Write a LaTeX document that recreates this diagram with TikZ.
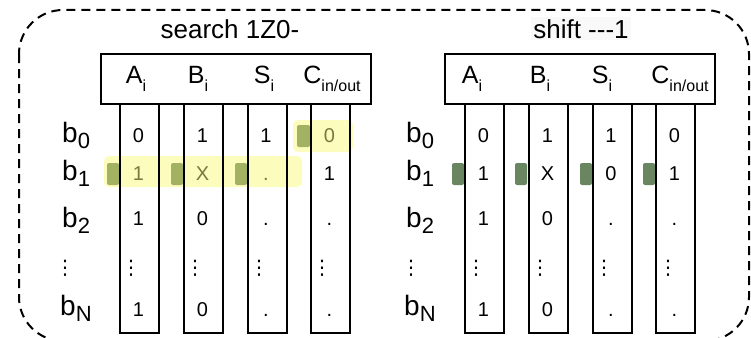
\documentclass[tikz,border=0pt]{standalone}
\usepackage{fontspec}
\setmainfont{Liberation Sans}
\newfontfamily\djv{DejaVu Sans}
\definecolor{hly}{RGB}{252,252,188}
\definecolor{grnL}{RGB}{163,178,98}
\definecolor{grnR}{RGB}{106,134,96}
\definecolor{hltx}{RGB}{120,120,66}
\newcommand\rsub[1]{\raisebox{-6pt}{\fontsize{22}{22}\selectfont #1}}
\newcommand\hsub[1]{\raisebox{-8pt}{\fontsize{16}{16}\selectfont #1}}
\newcommand\vdts{{\djv ⋮}}
\begin{document}
\begin{tikzpicture}[x=1pt,y=-1pt,
  frame/.style={draw, line width=2pt, dash pattern=on 9pt off 6pt, rounded corners=44pt},
  hdrbox/.style={draw, line width=2pt, inner sep=0pt, minimum width=270pt, minimum height=50pt, anchor=north west},
  colbox/.style={draw, line width=2pt, inner sep=0pt, minimum width=39pt, minimum height=229pt, anchor=north west},
  hlbox/.style={fill=hly, rounded corners=5pt},
  grnbox/.style={rounded corners=2pt},
  val/.style={anchor=base, font=\fontsize{20}{20}\selectfont, inner sep=0pt},
  dts/.style={anchor=base, font=\fontsize{20}{20}\selectfont, inner sep=0pt},
  lab/.style={anchor=base west, font=\fontsize{28}{28}\selectfont, inner sep=0pt},
  hd/.style={anchor=base, font=\fontsize{25}{25}\selectfont, inner sep=0pt},
  ttl/.style={anchor=base, font=\fontsize{26}{26}\selectfont, inner sep=0pt},
  hl/.style={text=hltx}]
\useasboundingbox (0,0) rectangle (751,337);
\clip (0,0) rectangle (751,337);
% outer dashed frame
\draw[frame] (19,10) rectangle (749,341);
% titles
\node[ttl] (tL) at (230,38) {search 1Z0-};
\node[ttl, fill=gray!5, inner sep=2pt] (tR) at (581,38) {shift -\kern0pt-\kern0pt-1};
% highlights (left table)
\fill[hlbox] (293,120) rectangle (353,152);
\fill[hlbox] (104,156) rectangle (302,187);
\fill[grnbox, grnL] (297,125) rectangle (310,147);
\fill[grnbox, grnL] (107,163) rectangle (119,185);
\fill[grnbox, grnL] (171,163) rectangle (183,185);
\fill[grnbox, grnL] (235,163) rectangle (247,185);
% markers (right table)
\fill[grnbox, grnR] (452,163) rectangle (464,185);
\fill[grnbox, grnR] (515,163) rectangle (527,185);
\fill[grnbox, grnR] (580,163) rectangle (592,185);
\fill[grnbox, grnR] (643,163) rectangle (655,185);
% headers
\node[hdrbox] (hL) at (100,53) {};
\node[hdrbox] (hR) at (444,53) {};
% columns
\node[colbox] (cLA) at (119,103) {};
\node[colbox] (cLB) at (183,103) {};
\node[colbox] (cLS) at (247,103) {};
\node[colbox] (cLC) at (310,103) {};
\node[colbox] (cRA) at (464,103) {};
\node[colbox] (cRB) at (528,103) {};
\node[colbox] (cRS) at (592,103) {};
\node[colbox] (cRC) at (655,103) {};
% header labels
\node[hd] (hLA) at (136,83) {A\hsub{i}};
\node[hd] (hLB) at (198,83) {B\hsub{i}};
\node[hd] (hLS) at (264,83) {S\hsub{i}};
\node[hd] (hLC) at (332,83) {C\hsub{in/out}};
\node[hd] (hRA) at (472,83) {A\hsub{i}};
\node[hd] (hRB) at (540,83) {B\hsub{i}};
\node[hd] (hRS) at (602,83) {S\hsub{i}};
\node[hd] (hRC) at (680,83) {C\hsub{in/out}};
% row labels
\node[lab] (rL0) at (62,142) {b\rsub{0}};
\node[lab] (rL1) at (62,180) {b\rsub{1}};
\node[lab] (rL2) at (62,227) {b\rsub{2}};
\node[dts] (rLd) at (65,274) {\vdts};
\node[lab] (rLN) at (60,315) {b\rsub{N}};
\node[lab] (rR0) at (406,142) {b\rsub{0}};
\node[lab] (rR1) at (406,180) {b\rsub{1}};
\node[lab] (rR2) at (406,227) {b\rsub{2}};
\node[dts] (rRd) at (411,274) {\vdts};
\node[lab] (rRN) at (404,315) {b\rsub{N}};
% left values
\node[val] (vLA0) at (138.5,142) {0};
\node[val,hl] (vLA1) at (138.5,180) {1};
\node[val] (vLA2) at (138.5,225) {1};
\node[dts] (vLAd) at (131,274) {\vdts};
\node[val] (vLAN) at (138.5,316) {1};
\node[val] (vLB0) at (202.5,142) {1};
\node[val,hl] (vLB1) at (202.5,180) {X};
\node[val] (vLB2) at (202.5,225) {0};
\node[dts] (vLBd) at (195,274) {\vdts};
\node[val] (vLBN) at (202.5,316) {0};
\node[val] (vLS0) at (266,142) {1};
\node[val,hl] (vLS1) at (266,180) {.};
\node[val] (vLS2) at (266,225) {.};
\node[dts] (vLSd) at (259,274) {\vdts};
\node[val] (vLSN) at (266,316) {.};
\node[val,hl] (vLC0) at (329.5,142) {0};
\node[val] (vLC1) at (329.5,180) {1};
\node[val] (vLC2) at (329.5,225) {.};
\node[dts] (vLCd) at (322,274) {\vdts};
\node[val] (vLCN) at (329.5,316) {.};
% right values
\node[val] (vRA0) at (483.5,142) {0};
\node[val] (vRA1) at (483.5,180) {1};
\node[val] (vRA2) at (483.5,225) {1};
\node[dts] (vRAd) at (476,274) {\vdts};
\node[val] (vRAN) at (483.5,316) {1};
\node[val] (vRB0) at (547.5,142) {1};
\node[val] (vRB1) at (547.5,180) {X};
\node[val] (vRB2) at (547.5,225) {0};
\node[dts] (vRBd) at (540,274) {\vdts};
\node[val] (vRBN) at (547.5,316) {0};
\node[val] (vRS0) at (611,142) {1};
\node[val] (vRS1) at (611,180) {0};
\node[val] (vRS2) at (611,225) {.};
\node[dts] (vRSd) at (604,274) {\vdts};
\node[val] (vRSN) at (611,316) {.};
\node[val] (vRC0) at (674.5,142) {0};
\node[val] (vRC1) at (674.5,180) {1};
\node[val] (vRC2) at (674.5,225) {.};
\node[dts] (vRCd) at (668,274) {\vdts};
\node[val] (vRCN) at (674.5,316) {.};
\end{tikzpicture}
\end{document}
